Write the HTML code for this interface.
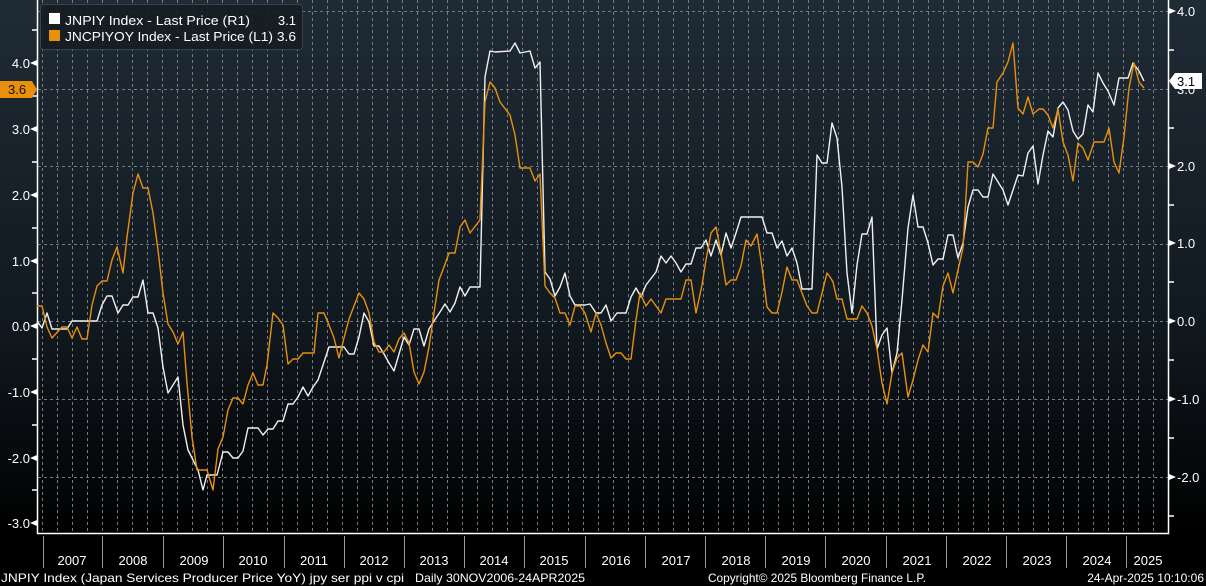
<!DOCTYPE html>
<html><head><meta charset="utf-8"><style>
html,body{margin:0;padding:0;background:#000;}
svg{display:block;font-family:"Liberation Sans",sans-serif;}
</style></head><body>
<svg width="1206" height="586" viewBox="0 0 1206 586" xmlns="http://www.w3.org/2000/svg">
<defs>
<linearGradient id="bg" x1="0" y1="0" x2="0" y2="1">
<stop offset="0" stop-color="#1f2b35"/><stop offset="0.6" stop-color="#111920"/><stop offset="1" stop-color="#000"/>
</linearGradient>
</defs>
<rect x="0" y="0" width="1206" height="586" fill="#000"/>
<rect x="0" y="0" width="1206" height="534" fill="url(#bg)"/>
<g stroke="#767c82" stroke-width="1" stroke-dasharray="3,3">
<path d="M42.5 0V533M57.5 0V533M72.5 0V533M87.5 0V533M102.5 0V533M117.5 0V533M132.5 0V533M147.5 0V533M162.5 0V533M177.5 0V533M192.5 0V533M207.5 0V533M222.5 0V533M237.5 0V533M252.5 0V533M267.5 0V533M282.5 0V533M297.5 0V533M312.5 0V533M327.5 0V533M342.5 0V533M357.5 0V533M372.5 0V533M387.5 0V533M402.5 0V533M417.5 0V533M432.5 0V533M447.5 0V533M462.5 0V533M477.5 0V533M492.5 0V533M507.5 0V533M522.5 0V533M537.5 0V533M552.5 0V533M568.5 0V533M583.5 0V533M598.5 0V533M613.5 0V533M628.5 0V533M643.5 0V533M658.5 0V533M673.5 0V533M688.5 0V533M703.5 0V533M718.5 0V533M733.5 0V533M748.5 0V533M763.5 0V533M778.5 0V533M793.5 0V533M808.5 0V533M823.5 0V533M838.5 0V533M853.5 0V533M868.5 0V533M883.5 0V533M898.5 0V533M913.5 0V533M928.5 0V533M943.5 0V533M958.5 0V533M973.5 0V533M988.5 0V533M1003.5 0V533M1018.5 0V533M1033.5 0V533M1048.5 0V533M1063.5 0V533M1078.5 0V533M1093.5 0V533M1108.5 0V533M1123.5 0V533M1138.5 0V533M1153.5 0V533"/>
<path d="M38 11.5H1168M38 89.5H1168M38 166.5H1168M38 244.5H1168M38 321.5H1168M38 399.5H1168M38 477.5H1168"/>
</g>
<g stroke="#fff" stroke-width="1.5" fill="none">
<path d="M37.5 0V533.5H1168.5V0"/>
</g>
<g fill="#fff" font-size="13">
<g stroke="#fff" stroke-width="1.5">
<path d="M32 30H37M32 96H37M32 162H37M32 228H37M32 293H37M32 359H37M32 425H37M32 490H37"/>
<path d="M1168 50H1174M1168 128H1174M1168 205H1174M1168 282H1174M1168 360H1174M1168 438H1174M1168 516H1174"/>
</g>
<path d="M30 63L37 60V66Z M30 129L37 126V132Z M30 195L37 192V198Z M30 261L37 258V264Z M30 326L37 323V329Z M30 392L37 389V395Z M30 458L37 455V461Z M30 523L37 520V526Z"/>
<path d="M1176 11L1169 8V14Z M1176 166L1169 163V169Z M1176 243L1169 240V246Z M1176 321L1169 318V324Z M1176 399L1169 396V402Z M1176 477L1169 474V480Z"/>
<g text-anchor="end">
<text x="30" y="68">4.0</text><text x="30" y="134">3.0</text><text x="30" y="200">2.0</text><text x="30" y="266">1.0</text><text x="30" y="331">0.0</text><text x="30" y="397">-1.0</text><text x="30" y="463">-2.0</text><text x="30" y="528">-3.0</text>
</g>
<text x="1177" y="16">4.0</text><text x="1177" y="94">3.0</text><text x="1177" y="171">2.0</text><text x="1177" y="248">1.0</text><text x="1177" y="326">0.0</text><text x="1177" y="404">-1.0</text><text x="1177" y="482">-2.0</text>
</g>
<polyline fill="none" stroke="#f0f0f0" stroke-width="1.4" stroke-linejoin="round" points="37,321 42,328 47,313 52,329 67,329 72,321 97,321 102,305 107,296 112,296 118,313 123,305 128,305 133,297 138,297 143,280 148,313 153,313 158,328 163,367 168,393 173,385 178,377 183,425 188,450 193,460 198,470 203,490 207,475 217,475 223,452 228,452 233,458 238,458 243,451 248,428 258,428 263,435 268,429 273,429 278,421 283,421 288,404 293,404 298,397 303,387 308,396 313,387 318,380 323,365 329,347 344,347 349,354 354,354 359,337 364,313 369,322 374,346 379,346 384,354 389,363 394,371 399,354 404,337 409,345 414,329 419,329 424,346 429,329 434,321 440,312 445,304 450,312 455,303 460,287 465,296 470,287 480,287 485,77 490,51 495,52 510,51 515,43 520,53 530,51 535,68 540,62 545,272 550,279 555,296 560,287 565,273 570,296 575,305 585,305 590,304 596,313 601,313 606,305 611,321 617,313 626,313 631,297 636,288 641,297 646,285 656,272 661,256 666,263 671,256 676,263 681,272 686,264 691,264 696,248 701,248 706,240 711,256 716,240 721,255 726,233 731,248 736,233 741,217 753,217 762,217 767,233 772,233 777,248 782,241 787,256 792,248 797,263 802,289 812,289 817,155 822,163 827,163 832,123 837,138 842,187 847,273 852,313 857,265 862,234 867,234 872,217 877,349 882,335 887,328 892,373 897,353 902,300 908,228 913,195 918,227 923,227 928,243 933,265 938,259 943,259 948,235 953,235 958,258 963,243 968,207 973,190 978,190 983,197 988,197 993,174 998,182 1003,190 1008,205 1013,190 1018,175 1023,176 1028,153 1033,146 1038,184 1043,155 1048,131 1053,137 1058,108 1063,102 1068,110 1073,131 1078,139 1083,134 1088,105 1093,112 1098,73 1103,83 1108,91 1114,105 1119,78 1128,78 1133,63 1139,71 1144,81"/>
<polyline fill="none" stroke="#e8900c" stroke-width="1.4" stroke-linejoin="round" points="37,306 42,306 47,327 52,338 62,327 67,327 72,338 77,327 82,339 87,339 92,305 97,286 102,281 107,281 112,260 117,247 123,273 127,237 133,193 138,174 143,188 148,188 153,213 158,250 163,293 168,324 173,332 178,344 183,332 187,383 192,437 197,470 207,470 213,490 218,449 223,437 228,410 233,398 238,398 243,404 248,385 253,373 258,385 263,385 267,365 273,313 278,318 283,325 288,364 293,359 298,359 303,353 314,353 318,313 324,313 329,325 334,338 339,358 344,338 349,319 354,306 359,293 364,299 369,313 374,342 379,352 384,352 389,345 394,352 399,339 404,333 409,343 414,372 419,384 424,372 429,347 434,313 439,280 444,267 449,253 455,253 460,227 465,220 470,233 480,220 485,102 490,82 495,88 500,102 510,115 515,135 520,168 530,168 535,181 540,174 545,286 550,293 555,298 560,313 565,313 570,325 575,306 580,306 585,313 591,332 596,313 601,325 606,343 611,358 616,353 621,353 626,359 631,359 636,320 640,293 646,306 651,299 661,313 666,299 681,299 686,280 691,280 696,313 702,285 706,260 711,233 716,227 721,253 726,285 731,280 736,280 741,266 746,240 751,246 757,234 762,267 767,307 772,313 777,313 782,292 787,267 792,280 797,280 802,293 807,306 812,313 817,313 822,293 827,273 830,277 833,282 837,299 842,299 847,319 857,319 862,306 867,313 872,326 877,349 882,383 887,404 892,373 897,358 902,353 908,397 913,380 918,360 923,345 928,352 933,313 938,318 943,286 948,273 953,293 958,270 963,248 968,162 973,162 978,167 983,154 988,128 993,128 997,82 1003,73 1008,62 1013,43 1018,108 1023,114 1028,97 1033,114 1039,109 1043,109 1048,115 1053,128 1058,109 1063,142 1068,155 1073,181 1078,143 1083,148 1088,160 1094,142 1104,142 1109,128 1114,162 1119,173 1124,137 1129,88 1134,63 1139,82 1144,88"/>
<path d="M0 81H32L37 89.5L32 98H0Z" fill="#e8900c"/>
<text x="8" y="94" font-size="13" fill="#111">3.6</text>
<path d="M1169 81L1175 73H1202V89H1175Z" fill="#fff"/>
<text x="1177" y="86" font-size="13" fill="#000">3.1</text>
<rect x="40.5" y="4.5" width="262" height="45" rx="3" fill="#161d23" fill-opacity="0.92" stroke="#3a4148"/>
<rect x="49" y="13" width="11" height="11" fill="#fff"/>
<rect x="49" y="30" width="11" height="11" fill="#e8900c"/>
<g font-size="13" fill="#fff">
<text x="65" y="25" textLength="185" lengthAdjust="spacingAndGlyphs">JNPIY Index - Last Price (R1)</text><text x="296" y="25" text-anchor="end">3.1</text>
<text x="65" y="41" textLength="231" lengthAdjust="spacingAndGlyphs">JNCPIYOY Index - Last Price (L1) 3.6</text>
</g>
<g stroke="#9a9a9a" stroke-width="1">
<path d="M43.5 536V568M102.5 536V568M163.5 536V568M223.5 536V568M284.5 536V568M344.5 536V568M404.5 536V568M464.5 536V568M524.5 536V568M585.5 536V568M645.5 536V568M705.5 536V568M765.5 536V568M825.5 536V568M886.5 536V568M946.5 536V568M1006.5 536V568M1066.5 536V568M1126.5 536V568"/>
</g>
<g font-size="13" fill="#fff" text-anchor="middle">
<text x="72" y="565">2007</text><text x="133" y="565">2008</text><text x="194" y="565">2009</text><text x="253" y="565">2010</text><text x="314" y="565">2011</text><text x="374" y="565">2012</text><text x="434" y="565">2013</text><text x="494" y="565">2014</text><text x="554" y="565">2015</text><text x="616" y="565">2016</text><text x="676" y="565">2017</text><text x="736" y="565">2018</text><text x="796" y="565">2019</text><text x="856" y="565">2020</text><text x="917" y="565">2021</text><text x="977" y="565">2022</text><text x="1037" y="565">2023</text><text x="1097" y="565">2024</text><text x="1148" y="565">2025</text>
</g>
<g font-size="12" fill="#fff">
<text x="1" y="582" textLength="403" lengthAdjust="spacingAndGlyphs">JNPIY Index (Japan Services Producer Price YoY) jpy ser ppi v cpi</text>
<text x="415" y="582" textLength="170" lengthAdjust="spacingAndGlyphs">Daily 30NOV2006-24APR2025</text>
<text x="708" y="582" textLength="218" lengthAdjust="spacingAndGlyphs">Copyright© 2025 Bloomberg Finance L.P.</text>
<text x="1204" y="582" text-anchor="end">24-Apr-2025 10:10:06</text>
</g>
</svg>
</body></html>
